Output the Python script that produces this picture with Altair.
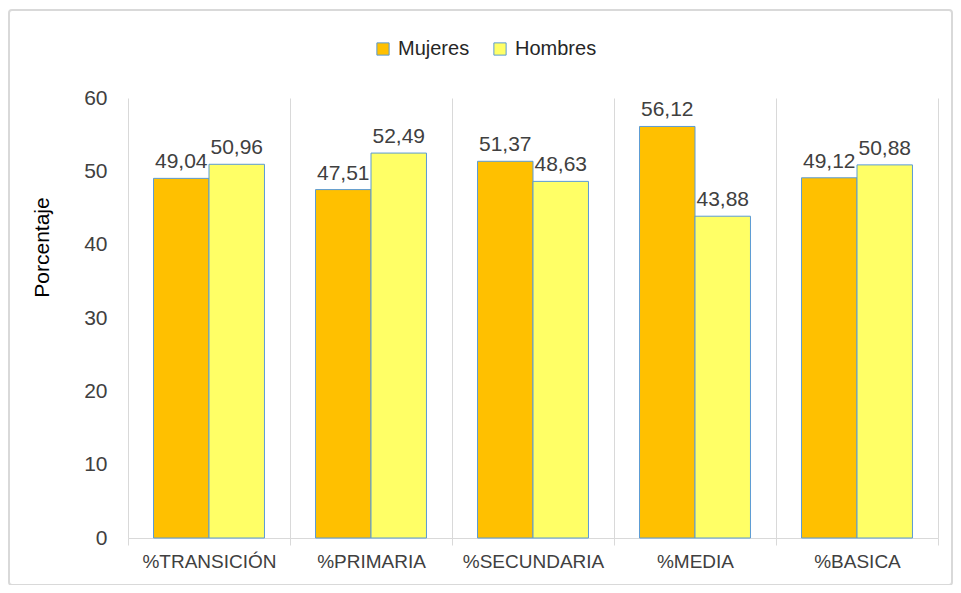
import altair as alt
import pandas as pd

categories = ["%TRANSICIÓN", "%PRIMARIA", "%SECUNDARIA", "%MEDIA", "%BASICA"]
mujeres = [49.04, 47.51, 51.37, 56.12, 49.12]
hombres = [50.96, 52.49, 48.63, 43.88, 50.88]
series = ["Mujeres", "Hombres"]
colors = ["#FFC000", "#FFFF66"]

rows = []
for c, m, h in zip(categories, mujeres, hombres):
    rows.append({"cat": c, "serie": "Mujeres", "val": m, "lbl": f"{m:.2f}".replace(".", ",")})
    rows.append({"cat": c, "serie": "Hombres", "val": h, "lbl": f"{h:.2f}".replace(".", ",")})
df = pd.DataFrame(rows)

FONT = "Liberation Sans"

x = alt.X("cat:N", sort=categories, title=None,
          scale=alt.Scale(paddingInner=0, paddingOuter=0),
          axis=alt.Axis(grid=True, tickBand="extent", gridColor="#D9D9D9", tickColor="#D9D9D9",
                        domainColor="#D9D9D9", tickSize=7, labelAngle=0, labelPadding=7,
                        labelFontSize=19, labelColor="#404040", labelFont=FONT))
xo = alt.XOffset("serie:N", sort=series, scale=alt.Scale(paddingInner=0, paddingOuter=0.46))
y = alt.Y("val:Q", scale=alt.Scale(domain=[0, 60]),
          axis=alt.Axis(values=[0, 10, 20, 30, 40, 50, 60], grid=False, ticks=False, domain=False,
                        labelPadding=21, labelFontSize=21, labelColor="#404040", labelFont=FONT,
                        title="Porcentaje", titleFontSize=21, titleFont=FONT, titleFontWeight="normal",
                        titleColor="#000000", titleX=-86, titleY=149, titleAngle=270,
                        titleAlign="center", titleBaseline="middle"))
color = alt.Color("serie:N", sort=series, scale=alt.Scale(domain=series, range=colors),
                  legend=alt.Legend(title=None, orient="none", legendX=245, legendY=-59,
                                    direction="horizontal", symbolType="square", symbolSize=150,
                                    symbolStrokeColor="#5B9BD5", symbolStrokeWidth=1,
                                    labelFontSize=20, labelFont=FONT, labelColor="#262626",
                                    labelOffset=5, columnPadding=20, symbolOpacity=1))

bars = alt.Chart(df).mark_bar(stroke="#5B9BD5", strokeWidth=1, opacity=1).encode(
    x=x, xOffset=xo, y=y, color=color)
labels = alt.Chart(df).mark_text(baseline="alphabetic", dy=-10, fontSize=21, font=FONT,
                                 color="#404040").encode(
    x=alt.X("cat:N", sort=categories), xOffset=alt.XOffset("serie:N", sort=series),
    y="val:Q", text="lbl:N")

border = alt.Chart(pd.DataFrame({"a": [0]})).mark_rect(
    fill=None, stroke="#D9D9D9", strokeWidth=2, cornerRadius=3).encode(
    x=alt.value(-119), x2=alt.value(824), y=alt.value(-88), y2=alt.value(487))

chart = alt.layer(border, bars, labels).properties(
    width=810, height=440, autosize="none",
    padding={"left": 120, "top": 90, "right": 15, "bottom": 47},
    background="white"
).configure_view(stroke=None)

chart.save("out.html", embed_options={"renderer": "svg", "actions": False})
